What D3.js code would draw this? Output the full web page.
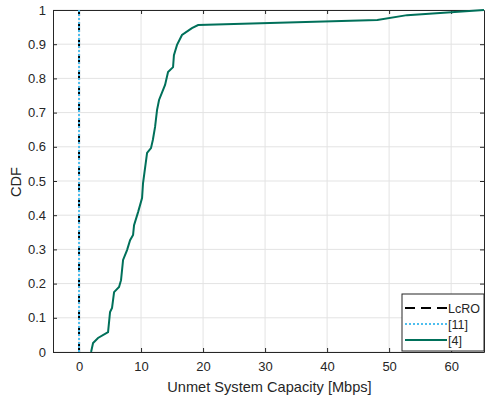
<!DOCTYPE html>
<html><head><meta charset="utf-8">
<script src="https://cdn.jsdelivr.net/npm/d3@7"></script>
<style>body{margin:0;background:#fff}svg{display:block}text{font-family:"Liberation Sans",Arial,sans-serif}</style>
</head><body><svg id="c" width="485" height="401"></svg>
<script>
const xTicks = [0,10,20,30,40,50,60];
const yTicks = [0,0.1,0.2,0.3,0.4,0.5,0.6,0.7,0.8,0.9,1];
const seriesNames = ["LcRO","[11]","[4]"];
const lcroX = [0,0], lcroY = [0,1];
const ref11X = [0,0], ref11Y = [0,1];
const ref4X = [1.94,2.26,3.06,4.68,5.0,5.32,5.65,6.45,6.77,7.1,7.74,8.23,8.71,8.87,9.52,10.16,10.32,10.97,11.6,11.9,12.26,12.58,12.9,13.87,14.35,15.16,15.3,15.8,16.6,18.2,19.2,48.1,52.9,65.3];
const ref4Y = [0,0.026,0.041,0.058,0.117,0.129,0.175,0.19,0.21,0.269,0.298,0.327,0.342,0.371,0.409,0.45,0.494,0.582,0.596,0.62,0.658,0.708,0.737,0.781,0.819,0.833,0.868,0.898,0.927,0.947,0.956,0.971,0.985,1.0];

const svg = d3.select("#c");
const L=53,R=484,T=10,B=352;
const x = d3.scaleLinear().domain([-4.2,65.3]).range([L,R]);
const y = d3.scaleLinear().domain([0,1]).range([B,T]);
const axc="#262626";

const g = svg.append("g");
g.selectAll(".gx").data(xTicks).join("line").attr("x1",d=>x(d)).attr("x2",d=>x(d)).attr("y1",T).attr("y2",B).attr("stroke","#e3e3e3").attr("stroke-width",1);
g.selectAll(".gy").data(yTicks).join("line").attr("y1",d=>y(d)).attr("y2",d=>y(d)).attr("x1",L).attr("x2",R).attr("stroke","#e3e3e3").attr("stroke-width",1);

const ax = svg.append("g").attr("transform",`translate(0,${B})`).call(d3.axisBottom(x).tickValues(xTicks).tickSizeInner(-4).tickSizeOuter(0).tickPadding(10));
const axT = svg.append("g").attr("transform",`translate(0,${T})`).call(d3.axisTop(x).tickValues(xTicks).tickSizeInner(-4).tickSizeOuter(0).tickFormat(""));
const ay = svg.append("g").attr("transform",`translate(${L},0)`).call(d3.axisLeft(y).tickValues(yTicks).tickSizeInner(-4).tickSizeOuter(0).tickPadding(7).tickFormat(d=>d3.format("")(+d.toFixed(1))));
const ayR = svg.append("g").attr("transform",`translate(${R},0)`).call(d3.axisRight(y).tickValues(yTicks).tickSizeInner(-4).tickSizeOuter(0).tickFormat(""));
[ax,axT,ay,ayR].forEach(a=>{a.selectAll("path,line").attr("stroke",axc);a.selectAll("text").attr("fill",axc).style("font-size","13px");});

const line = d3.line().x(d=>x(d[0])).y(d=>y(d[1]));
svg.append("path").datum(lcroX.map((v,i)=>[v,lcroY[i]])).attr("d",line).attr("fill","none").attr("stroke","#000").attr("stroke-width",2).attr("stroke-dasharray","10,6");
svg.append("path").datum(ref11X.map((v,i)=>[v,ref11Y[i]])).attr("d",line).attr("fill","none").attr("stroke","#4DBEEE").attr("stroke-width",2).attr("stroke-dasharray","2,2");
svg.append("path").datum(ref4X.map((v,i)=>[v,ref4Y[i]])).attr("d",line).attr("fill","none").attr("stroke","#00705A").attr("stroke-width",2);

svg.append("text").attr("x",(L+R)/2+1).attr("y",392).attr("text-anchor","middle").attr("fill",axc).style("font-size","14.6px").text("Unmet System Capacity [Mbps]");
svg.append("text").attr("transform",`translate(21,182) rotate(-90)`).attr("text-anchor","middle").attr("fill",axc).style("font-size","14.6px").text("CDF");

const lg = svg.append("g");
lg.append("rect").attr("x",402).attr("y",294).attr("width",82).attr("height",57).attr("fill","#fff").attr("stroke",axc).attr("stroke-width",1);
const styles=[{c:"#000",d:"10,6"},{c:"#4DBEEE",d:"2,2"},{c:"#00705A",d:null}];
seriesNames.forEach((n,i)=>{
  const yy=308+i*16;
  const l=lg.append("line").attr("x1",405).attr("x2",447).attr("y1",yy).attr("y2",yy).attr("stroke",styles[i].c).attr("stroke-width",2);
  if(styles[i].d) l.attr("stroke-dasharray",styles[i].d);
  lg.append("text").attr("x",448).attr("y",yy+4.5).attr("fill",axc).style("font-size","12.5px").text(n);
});
</script></body></html>
